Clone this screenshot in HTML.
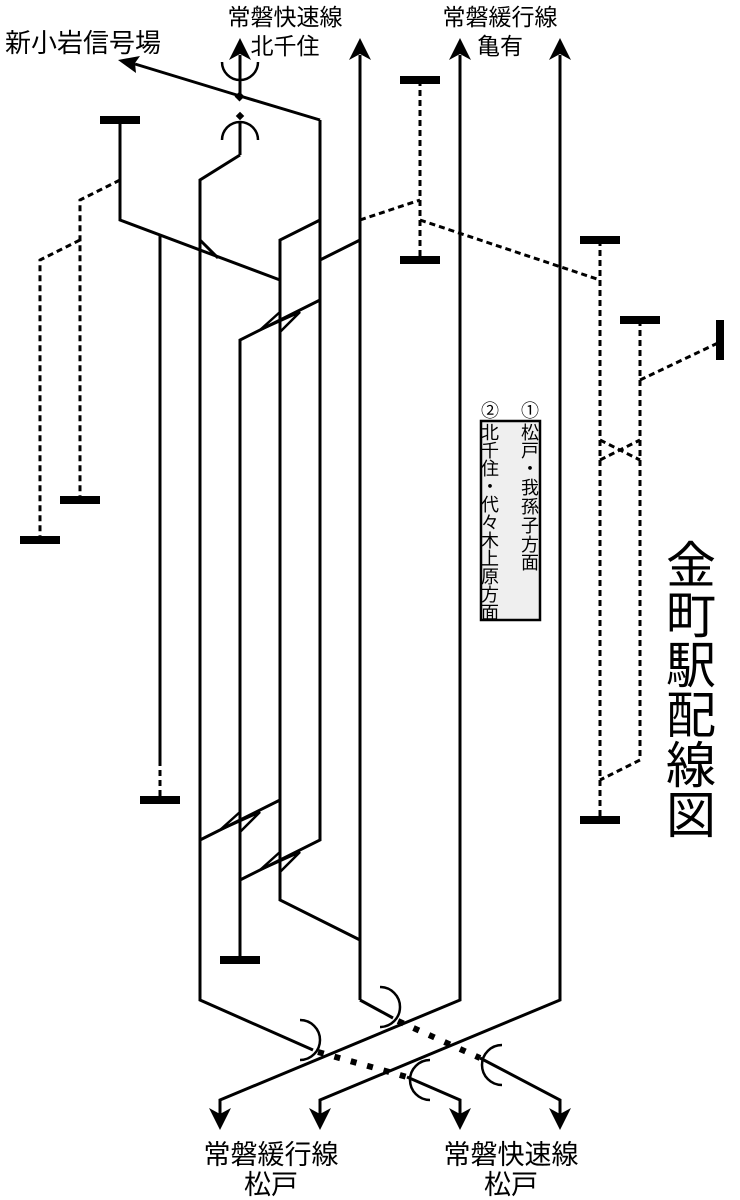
<!DOCTYPE html>
<html><head><meta charset="utf-8"><style>
html,body{margin:0;padding:0;background:#fff;}
svg{display:block;}
text{font-family:"Liberation Sans","Noto Sans CJK JP",sans-serif;fill:#000;}
</style></head><body>
<svg width="740" height="1200" viewBox="0 0 740 1200" xmlns="http://www.w3.org/2000/svg">
<g fill="none" stroke="#000" stroke-width="3">
<polyline points="120,120 120,220 280,280"/>
<polyline points="160,236 160,760"/>
<polyline points="240,155 200,180 200,1000 313,1050"/>
<polyline points="320,120 240,96 135,64"/>
<line x1="240" y1="96" x2="240" y2="55"/>
<line x1="240" y1="155" x2="240" y2="122"/>
<polyline points="320,120 320,840 240,880"/>
<polyline points="320,220 280,240 280,900 360,940"/>
<polyline points="320,260 360,240"/>
<polyline points="320,300 240,340 240,960"/>
<polyline points="280,800 200,840"/>
<line x1="360" y1="55" x2="360" y2="1000"/>
<polyline points="360,1000 393,1018"/>
<polyline points="460,55 460,1000 220,1100 220,1118"/>
<polyline points="560,55 560,1000 320,1100 320,1118"/>
<polyline points="407,1077 460,1100 460,1118"/>
<polyline points="480,1058 560,1100 560,1118"/>
<polyline points="200,240 218,258"/>
<polyline points="280,312 260,330 300,312 280,332" stroke-width="2.5"/>
<polyline points="240,812 220,830 260,812 240,832" stroke-width="2.5"/>
<polyline points="280,852 260,870 300,852 280,872" stroke-width="2.5"/>
<path d="M222,62 A18,18 0 0 0 258,62" stroke-width="2.5"/>
<path d="M222,140 A18,18 0 0 1 258,140" stroke-width="2.5"/>
<path d="M300,1020 A20,20 0 0 1 300,1060" stroke-width="2.5"/>
<path d="M380,987 A20,20 0 0 1 380,1027" stroke-width="2.5"/>
<path d="M430,1060 A20,20 0 0 0 430,1100" stroke-width="2.5"/>
<path d="M502,1045 A20,20 0 0 0 502,1085" stroke-width="2.5"/>
<g stroke-dasharray="6,4">
<polyline points="120,180 80,200 80,500"/>
<polyline points="80,240 40,260 40,540"/>
<polyline points="160,760 160,800"/>
<polyline points="420,80 420,260"/>
<polyline points="360,220 420,200"/>
<polyline points="420,220 600,280"/>
<polyline points="600,240 600,820"/>
<polyline points="640,320 640,760 600,780"/>
<polyline points="640,380 720,342"/>
<polyline points="600,440 640,460"/>
<polyline points="600,460 640,440"/>
</g>
<g stroke-dasharray="6,11" stroke-width="6">
<line x1="318" y1="1052" x2="407" y2="1077"/>
<line x1="398" y1="1021" x2="480" y2="1058"/>
</g>
</g>
<g fill="#000">
<rect x="236" y="93" width="7" height="7" transform="rotate(45 239.5 96.5)"/>
<rect x="237" y="113" width="6" height="6" transform="rotate(45 240 116)"/>
<polygon points="240,38 229,60 240,54 251,60"/>
<polygon points="360,38 349,60 360,54 371,60"/>
<polygon points="460,38 449,60 460,54 471,60"/>
<polygon points="560,38 549,60 560,54 571,60"/>
<polygon points="118,60 140,56 135,63 136,73"/>
<polygon points="220,1130 209,1108 220,1114 231,1108"/>
<polygon points="320,1130 309,1108 320,1114 331,1108"/>
<polygon points="460,1130 449,1108 460,1114 471,1108"/>
<polygon points="560,1130 549,1108 560,1114 571,1108"/>
<rect x="100" y="116" width="40" height="8"/>
<rect x="60" y="496" width="40" height="8"/>
<rect x="20" y="536" width="40" height="8"/>
<rect x="140" y="796" width="40" height="8"/>
<rect x="220" y="956" width="40" height="8"/>
<rect x="400" y="76" width="40" height="8"/>
<rect x="400" y="256" width="40" height="8"/>
<rect x="580" y="236" width="40" height="8"/>
<rect x="620" y="316" width="40" height="8"/>
<rect x="580" y="816" width="40" height="8"/>
<rect x="716" y="320" width="8" height="40"/>
</g>
<g text-anchor="middle">
<text x="285" y="25" font-size="23">常磐快速線</text>
<text x="285" y="54" font-size="23">北千住</text>
<text x="500" y="25" font-size="23">常磐緩行線</text>
<text x="500" y="54" font-size="23">亀有</text>
<text x="83" y="52" font-size="26">新小岩信号場</text>
<text x="271" y="1164" font-size="27">常磐緩行線</text>
<text x="271" y="1194" font-size="27">松戸</text>
<text x="511" y="1164" font-size="27">常磐快速線</text>
<text x="511" y="1194" font-size="27">松戸</text>
</g>
<rect x="481" y="421" width="59" height="199" fill="#efefef" stroke="#000" stroke-width="2.5"/>
<g font-size="18" text-anchor="middle">
<text x="490" y="417">②</text>
<text x="530" y="417">①</text>
<text x="530" y="439">松</text><text x="530" y="457">戸</text><text x="530" y="475">・</text><text x="530" y="494">我</text><text x="530" y="513">孫</text><text x="530" y="532">子</text><text x="530" y="551">方</text><text x="530" y="569">面</text>
<text x="490" y="439">北</text><text x="490" y="457">千</text><text x="490" y="475">住</text><text x="490" y="493">・</text><text x="490" y="511">代</text><text x="490" y="529">々</text><text x="490" y="547">木</text><text x="490" y="565">上</text><text x="490" y="583">原</text><text x="490" y="601">方</text><text x="490" y="619">面</text>
</g>
<g font-size="50" text-anchor="middle">
<text x="691" y="583">金</text>
<text x="691" y="633">町</text>
<text x="691" y="683">駅</text>
<text x="691" y="733">配</text>
<text x="691" y="783">線</text>
<text x="691" y="833">図</text>
</g>
</svg>
</body></html>
